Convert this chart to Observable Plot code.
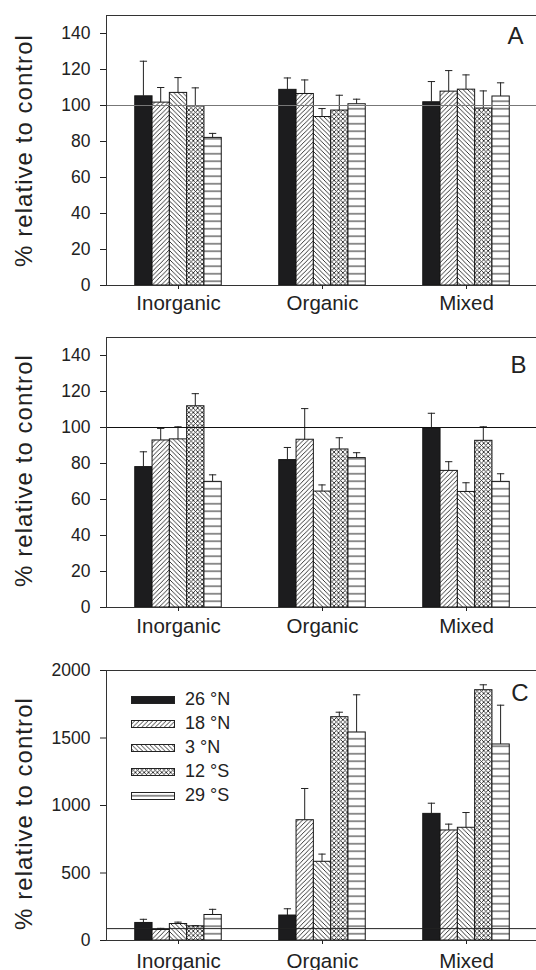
<!DOCTYPE html>
<html><head><meta charset="utf-8">
<script src="https://cdn.jsdelivr.net/npm/d3@7"></script>
<script src="https://cdn.jsdelivr.net/npm/@observablehq/plot@0.6"></script>
<style>
html,body{margin:0;padding:0;background:#fff;overflow:hidden;}
#root{position:relative;width:536px;height:970px;font-family:"Liberation Sans",Arial,Helvetica,sans-serif;color:#222;}
#root > svg{display:block;}
#legend{position:absolute;left:131px;top:687.5px;font-family:"Liberation Sans",Arial,sans-serif;color:#222;}
.row{display:flex;align-items:center;height:24px;font-size:18px;}
.row svg{margin-right:10px;display:block;}
</style></head><body>
<svg width="0" height="0" style="position:absolute">
<defs>
  <pattern id="p18" patternUnits="userSpaceOnUse" width="4.5" height="4.5">
    <rect width="4.5" height="4.5" fill="#fff"/>
    <path d="M-1,1 L1,-1 M0,4.5 L4.5,0 M3.5,5.5 L5.5,3.5" stroke="#222" stroke-width="0.9"/>
  </pattern>
  <pattern id="p3" patternUnits="userSpaceOnUse" width="4.5" height="4.5">
    <rect width="4.5" height="4.5" fill="#fff"/>
    <path d="M-1,3.5 L1,5.5 M0,0 L4.5,4.5 M3.5,-1 L5.5,1" stroke="#222" stroke-width="0.9"/>
  </pattern>
  <pattern id="p12" patternUnits="userSpaceOnUse" width="4.4" height="4.4">
    <rect width="4.4" height="4.4" fill="#fff"/>
    <path d="M-1,1 L1,-1 M0,4.4 L4.4,0 M3.4,5.4 L5.4,3.4 M-1,3.4 L1,5.4 M0,0 L4.4,4.4 M3.4,-1 L5.4,1" stroke="#222" stroke-width="0.85"/>
  </pattern>
  <pattern id="p29" patternUnits="userSpaceOnUse" width="4" height="7.5">
    <rect width="4" height="7.5" fill="#fff"/>
    <path d="M0,3.75 H4" stroke="#222" stroke-width="1"/>
  </pattern>
</defs>
</svg>
<div id="root">
  <div id="legend"></div>
</div>
<script>
// ---- data ----
const categories = ["Inorganic", "Organic", "Mixed"];
const series = ["26 °N", "18 °N", "3 °N", "12 °S", "29 °S"];
const fills = ["#1c1c1e", "url(#p18)", "url(#p3)", "url(#p12)", "url(#p29)"];
const yLabel = "% relative to control";

// rows: series, columns: categories (Inorganic, Organic, Mixed)
const meanA = [[105.1, 108.7, 101.8], [101.6, 106.4, 107.7], [107.0, 93.6, 108.8], [99.6, 97.2, 98.3], [82.0, 100.7, 105.0]];
const errA  = [[19.5, 6.6, 11.5], [8.4, 7.8, 11.7], [8.5, 4.7, 8.2], [10.2, 8.5, 9.8], [2.5, 2.8, 7.6]];
const meanB = [[78.0, 81.9, 99.5], [92.8, 93.2, 75.9], [93.4, 64.4, 64.2], [111.8, 87.8, 92.6], [69.8, 83.0, 69.8]];
const errB  = [[8.5, 7.0, 8.4], [6.7, 17.3, 5.1], [7.0, 3.7, 5.1], [7.0, 6.5, 7.8], [3.9, 3.0, 4.5]];
const meanC = [[130, 185, 938], [78, 891, 815], [122, 583, 835], [105, 1654, 1854], [189, 1541, 1452]];
const errC  = [[27, 50, 79], [12, 235, 47], [14, 57, 113], [5, 37, 40], [42, 279, 291]];

const ticksA = [0, 20, 40, 60, 80, 100, 120, 140];
const ticksC = [0, 500, 1000, 1500, 2000];

const root = document.getElementById("root");
const FONT = '"Liberation Sans", Arial, Helvetica, sans-serif';

function panel(o) {
  const rows = [];
  series.forEach((s, i) => categories.forEach((c, j) =>
    rows.push({cat: c, s: i, value: o.mean[i][j], err: o.err[i][j]})));
  const width = 536, marginLeft = 106, marginRight = -2;
  const step = (width - marginRight - marginLeft) / categories.length;
  const bw = 17.3, capW = 7.3;
  const marks = [];
  series.forEach((s, i) => {
    const d = rows.filter(r => r.s === i);
    const dx = (i - 2) * bw;
    marks.push(Plot.barY(d, {x: "cat", y: "value", fill: fills[i], stroke: "#161616", strokeWidth: 1,
      insetLeft: (step - bw) / 2, insetRight: (step - bw) / 2, dx}));
    marks.push(Plot.barY(d, {x: "cat", y1: "value", y2: r => r.value + r.err, fill: "#222",
      insetLeft: (step - 1) / 2, insetRight: (step - 1) / 2, dx}));
    marks.push(Plot.tickY(d, {x: "cat", y: r => r.value + r.err, stroke: "#222", strokeWidth: 1,
      insetLeft: (step - capW) / 2, insetRight: (step - capW) / 2, dx}));
  });
  marks.push(Plot.ruleY([o.ref], {stroke: o.refColor, strokeWidth: 1}));
  marks.push(Plot.frame({stroke: "#333", strokeWidth: 1}));
  marks.push(Plot.axisY({ticks: o.ticks, tickSize: 6, tickPadding: 10, fontSize: 17.5, label: null, tickFormat: d => String(d)}));
  marks.push(Plot.axisX({tickSize: 4, tickPadding: o.xPad, fontSize: 20.5, label: null}));
  marks.push(Plot.text([yLabel], {text: d => d, frameAnchor: "left", textAnchor: "middle", lineAnchor: "middle",
    rotate: -90, dx: -82.5, dy: o.labelDy, fontSize: 24, fill: "#222"}));
  marks.push(Plot.text([o.letter], {text: d => d, frameAnchor: "top-right", textAnchor: "end", lineAnchor: "top",
    dx: o.letterDx, dy: o.letterDy, fontSize: 24, fill: "#222"}));
  const svg = Plot.plot({
    width, height: o.height,
    marginLeft, marginRight, marginTop: o.mt, marginBottom: o.mb,
    x: {type: "band", domain: categories, padding: 0, round: false},
    y: {domain: o.domain, round: false},
    style: {fontFamily: FONT, color: "#222", background: "#fff", overflow: "visible"},
    marks
  });
  svg.querySelectorAll("text").forEach(t => {
    if (t.textContent === yLabel) t.setAttribute("letter-spacing", "1.05");
  });
  return svg;
}

const legendEl = document.getElementById("legend");
root.insertBefore(panel({mean: meanA, err: errA, domain: [0, 150], ticks: ticksA, ref: 100, refColor: "#777",
  letter: "A", letterDx: -15, letterDy: 11, mt: 15, mb: 35, height: 320, xPad: 6, labelDy: 0}), legendEl);
root.insertBefore(panel({mean: meanB, err: errB, domain: [0, 150], ticks: ticksA, ref: 100, refColor: "#111",
  letter: "B", letterDx: -12, letterDy: 18, mt: 17, mb: 38, height: 325, xPad: 7, labelDy: -2}), legendEl);
root.insertBefore(panel({mean: meanC, err: errC, domain: [0, 2000], ticks: ticksC, ref: 88, refColor: "#222",
  letter: "C", letterDx: -10, letterDy: 13, mt: 25, mb: 30, height: 325, xPad: 9, labelDy: 8}), legendEl);

// legend
series.forEach((s, i) => {
  const row = document.createElement("div");
  row.className = "row";
  row.innerHTML = `<svg width="44" height="8"><rect x="0.5" y="0.5" width="43" height="7" fill="${fills[i]}" stroke="#222" stroke-width="1"/></svg><span>${s}</span>`;
  legendEl.appendChild(row);
});
</script>
</body></html>
